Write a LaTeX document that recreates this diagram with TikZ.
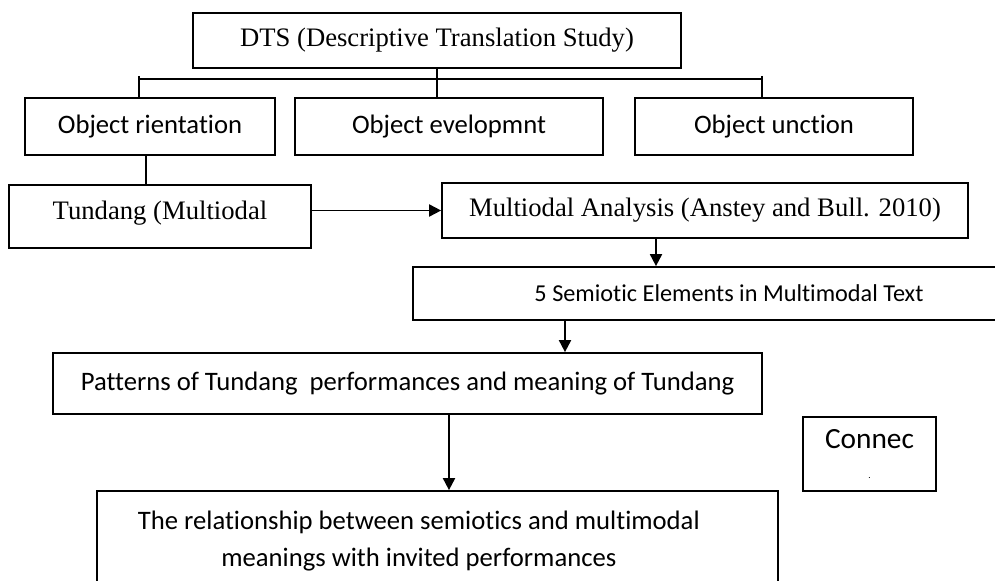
\documentclass[tikz,border=0pt]{standalone}
\usepackage{fontspec}
\setmainfont{Liberation Serif}
\newfontfamily\calibri[Ligatures=NoCommon]{Carlito}
\usetikzlibrary{arrows.meta}
\begin{document}
\begin{tikzpicture}[x=0.75pt, y=-0.75pt]
\useasboundingbox (0,0) rectangle (995,581);
\clip (0,0) rectangle (995,581);
\tikzset{box/.style={draw=black, line width=1.3pt, inner sep=0pt, align=center},
  serifbox/.style={box, font=\fontsize{20}{24}\selectfont},
  sansbox/.style={box, font=\calibri\fontsize{20}{27.75}\selectfont},
  link/.style={line width=1.4pt, draw=black},
  arr/.style={link, -{Triangle[length=9pt, width=9pt]}}}
\node[serifbox, minimum width=366pt, minimum height=41.25pt] (dts) at (437,40.5) {DTS (Descriptive Translation Study)};
\node[sansbox, minimum width=187.5pt, minimum height=42.75pt] (ori) at (150,126.5) {Object rientation};
\node[sansbox, minimum width=231pt, minimum height=42.75pt] (dev) at (449,126.5) {Object evelopmnt};
\node[sansbox, minimum width=208.5pt, minimum height=42.75pt] (unc) at (774,126.5) {Object unction};
\node[serifbox, minimum width=226.5pt, minimum height=47.25pt] (tun) at (160,216.5) {Tundang (Multiodal\rule[-9pt]{0pt}{1pt}};
\node[serifbox, minimum width=394.5pt, minimum height=41.25pt] (mul) at (705,210.5) {Multiodal Analysis (Anstey and Bull. 2010)};
\node[sansbox, font=\calibri\fontsize{18.2}{22}\selectfont, minimum width=474pt, minimum height=39.75pt] (sem) at (729,293.5) {5 Semiotic Elements in Multimodal Text};
\node[sansbox, minimum width=531.75pt, minimum height=45.75pt] (pat) at (407.5,383.5) {Patterns of Tundang\ \ performances and meaning of Tundang};
\node[sansbox, minimum width=510.75pt, minimum height=75pt] (rel) at (437.5,541) {The relationship between semiotics and multimodal\hspace*{28pt}\\meanings with invited performances\hspace*{28pt}};
\node[sansbox, font=\calibri\fontsize{22}{26}\selectfont, minimum width=99.75pt, minimum height=55.5pt] (con) at (869.5,454) {Connec\\[-4pt]{\scriptsize .}};
\coordinate (busL) at (139,76);
\coordinate (busR) at (762,76);
\coordinate (bus) at (0,79);
\coordinate (c1) at (146,0);
\coordinate (c2) at (656,0);
\coordinate (c3) at (565,0);
\coordinate (c4) at (449,0);
\draw[link] (busL |- bus) -- (busR |- bus);
\draw[link] (busL) -- (busL |- ori.north);
\draw[link] (busR) -- (busR |- unc.north);
\draw[link] (dts.south) -- (dts.south |- dev.north);
\draw[link] (ori.south -| c1) -- (tun.north -| c1);
\draw[arr] (mul.west -| tun.east) -- (mul.west);
\draw[arr] (mul.south -| c2) -- (sem.north -| c2);
\draw[arr] (sem.south -| c3) -- (pat.north -| c3);
\draw[arr] (pat.south -| c4) -- (rel.north -| c4);
\end{tikzpicture}
\end{document}
